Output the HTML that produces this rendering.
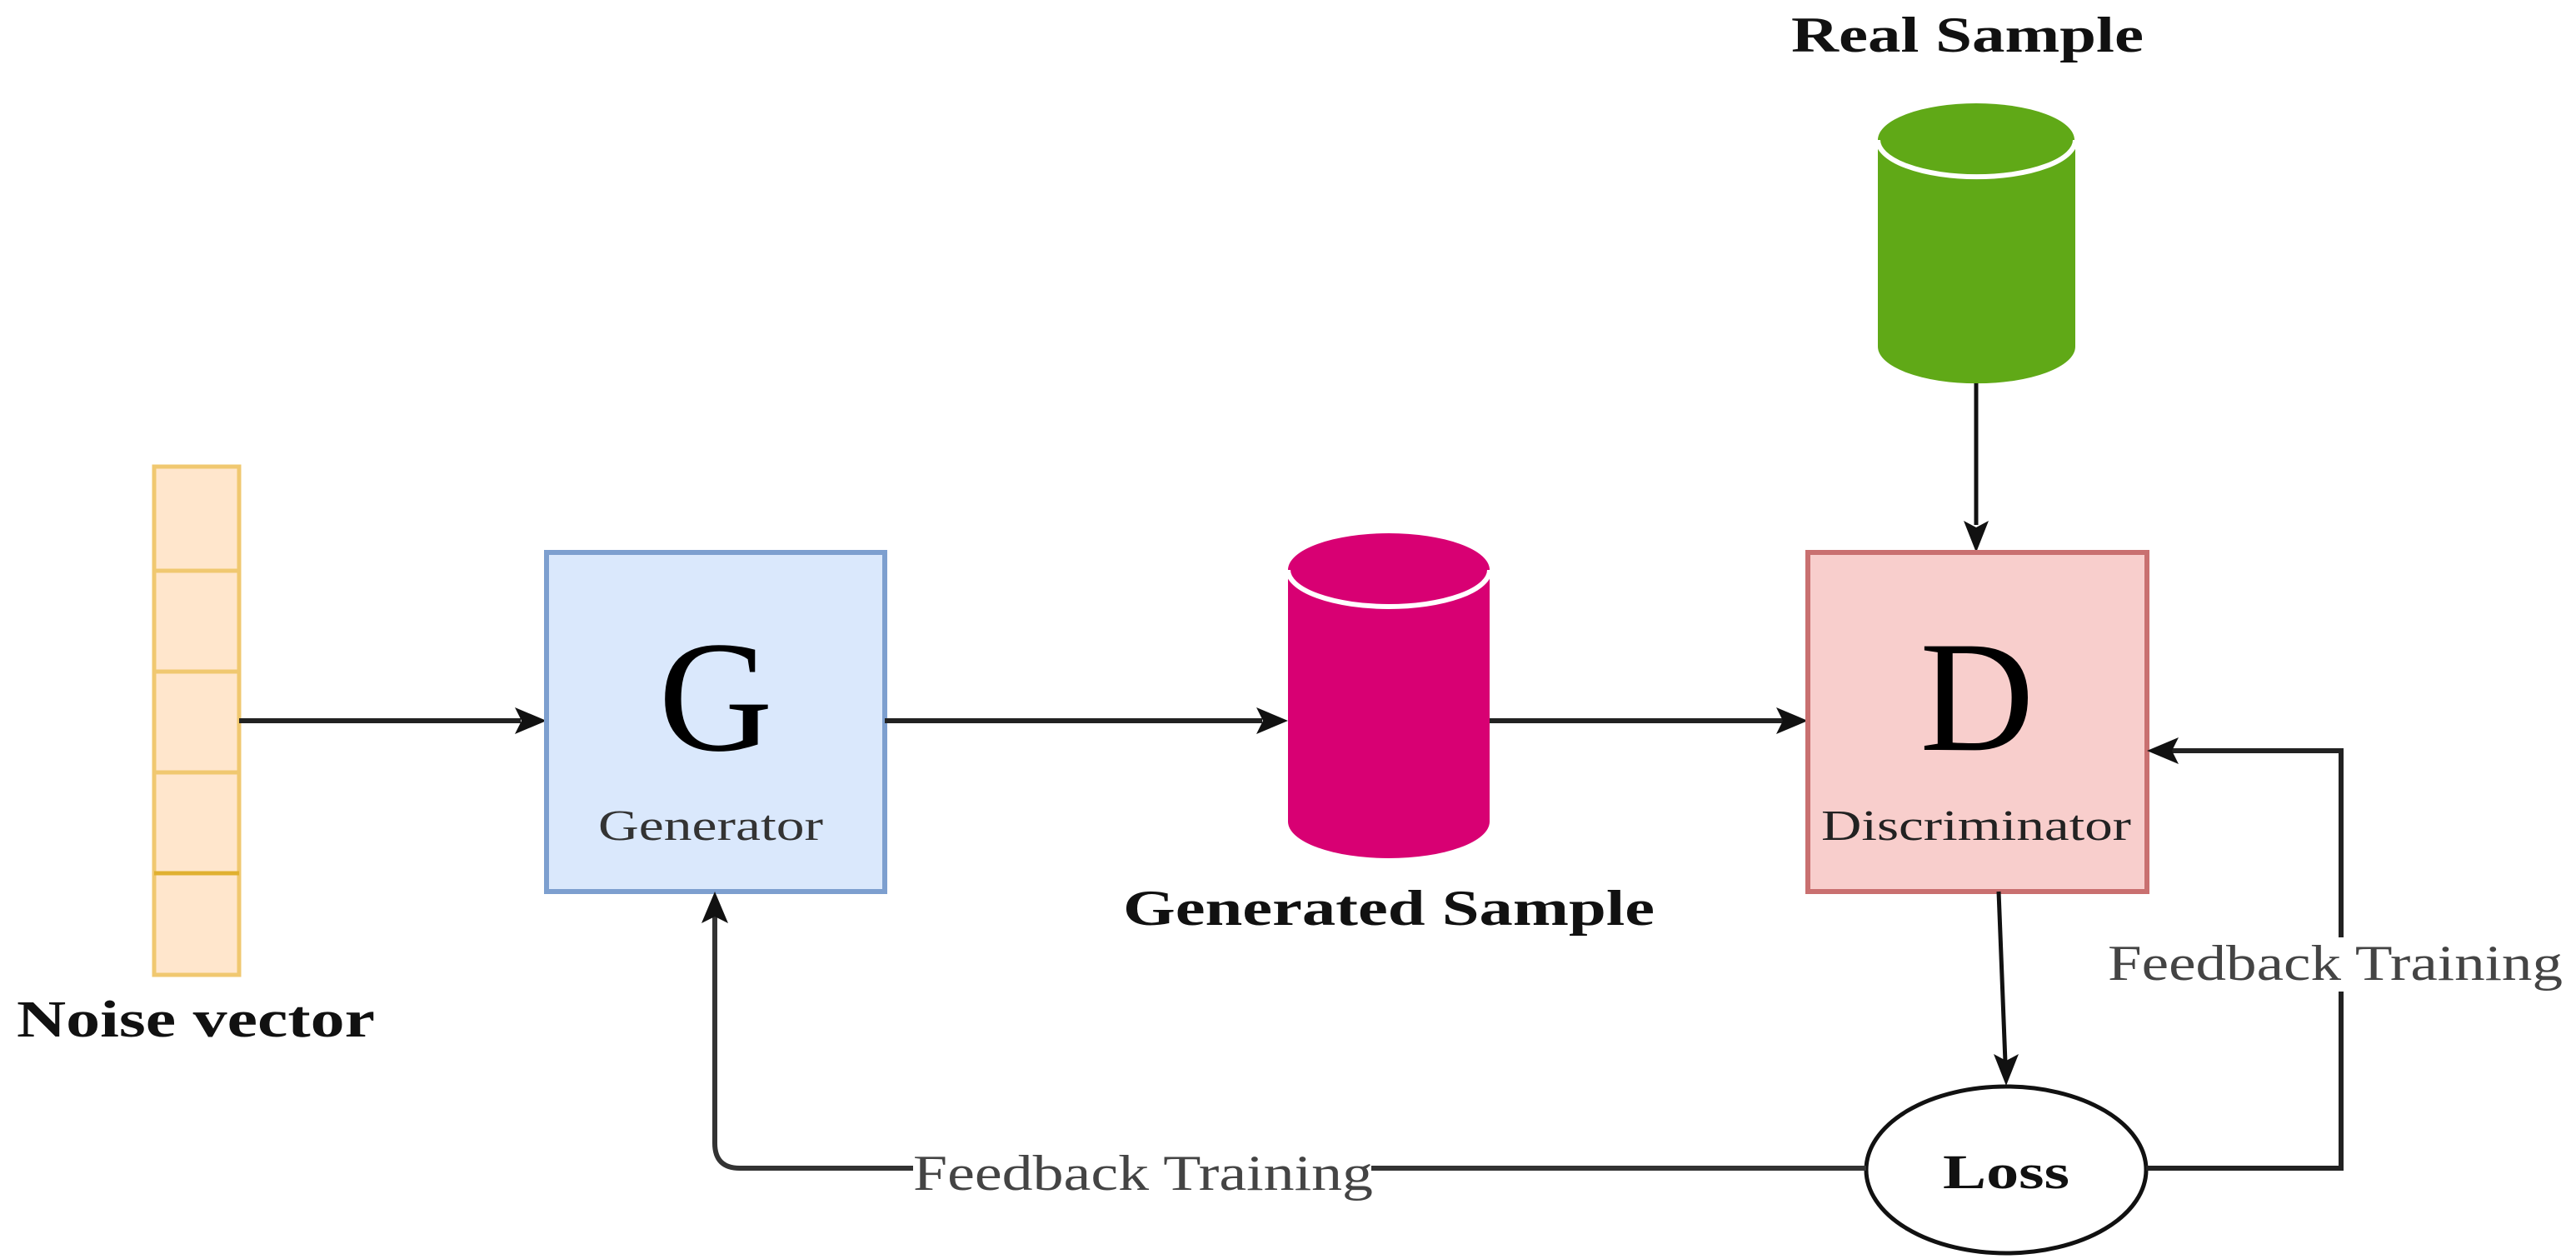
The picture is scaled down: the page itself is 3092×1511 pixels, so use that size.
<!DOCTYPE html>
<html><head><meta charset="utf-8"><style>
html,body{margin:0;padding:0;background:#fff;}
svg{display:block;}
text{font-family:"Liberation Serif",serif;}
</style></head><body>
<svg width="3092" height="1511" viewBox="0 0 3092 1511" xmlns="http://www.w3.org/2000/svg">
<!-- Real Sample label -->
<text x="2150" y="62" font-size="60" font-weight="bold" fill="#111" textLength="423" lengthAdjust="spacingAndGlyphs">Real Sample</text>
<!-- Green cylinder -->
<path d="M2254 168 L2254 416 A118 44 0 0 0 2491 416 L2491 168 Z" fill="#60a917"/>
<ellipse cx="2372" cy="168" rx="118" ry="44" fill="#60a917"/>
<path d="M2254 168 A118 44 0 0 0 2491 168" fill="none" stroke="#fff" stroke-width="6"/>
<!-- arrow real -> D -->
<line x1="2372" y1="460" x2="2372" y2="630" stroke="#111" stroke-width="5"/>
<polygon points="2372,663 2357,625 2372,633 2387,625" fill="#111"/>

<!-- Noise vector -->
<g fill="#ffe6cc" stroke="#f0c870" stroke-width="5">
<rect x="185" y="560" width="102" height="125"/>
<rect x="185" y="685" width="102" height="121"/>
<rect x="185" y="806" width="102" height="121"/>
<rect x="185" y="927" width="102" height="121"/>
<rect x="185" y="1048" width="102" height="122"/>
</g>
<line x1="185" y1="1048" x2="287" y2="1048" stroke="#e0b030" stroke-width="5"/>
<text x="20" y="1244" font-size="62" font-weight="bold" fill="#111" textLength="430" lengthAdjust="spacingAndGlyphs">Noise vector</text>

<!-- noise -> G -->
<line x1="287" y1="865" x2="625" y2="865" stroke="#222" stroke-width="6"/>
<polygon points="656,865 618,849 626,865 618,881" fill="#111"/>

<!-- G box -->
<rect x="656" y="663" width="406" height="407" fill="#dae8fc" stroke="#7d9fcf" stroke-width="6"/>
<text x="859" y="900" font-size="190" text-anchor="middle" fill="#000">G</text>
<text x="718" y="1008" font-size="52" fill="#333" textLength="270" lengthAdjust="spacingAndGlyphs">Generator</text>

<!-- G -> gen cylinder -->
<line x1="1062" y1="865" x2="1515" y2="865" stroke="#222" stroke-width="6"/>
<polygon points="1546,865 1508,849 1516,865 1508,881" fill="#111"/>

<!-- Gen cylinder -->
<path d="M1546 684 L1546 986 A121 44 0 0 0 1788 986 L1788 684 Z" fill="#d80073"/>
<ellipse cx="1667" cy="684" rx="121" ry="44" fill="#d80073"/>
<path d="M1546 684 A121 44 0 0 0 1788 684" fill="none" stroke="#fff" stroke-width="6"/>
<text x="1348" y="1110" font-size="60" font-weight="bold" fill="#111" textLength="638" lengthAdjust="spacingAndGlyphs">Generated Sample</text>

<!-- gen -> D -->
<line x1="1788" y1="865" x2="2140" y2="865" stroke="#222" stroke-width="6"/>
<polygon points="2170,865 2132,849 2140,865 2132,881" fill="#111"/>

<!-- D box -->
<rect x="2170" y="663" width="407" height="407" fill="#f8cecc" stroke="#c97070" stroke-width="6"/>
<text x="2373" y="900" font-size="190" text-anchor="middle" fill="#000">D</text>
<text x="2186" y="1008" font-size="52" fill="#222" textLength="372" lengthAdjust="spacingAndGlyphs">Discriminator</text>

<!-- D -> Loss -->
<line x1="2399" y1="1070" x2="2407" y2="1275" stroke="#111" stroke-width="5"/>
<polygon points="2408,1303 2393,1265 2408,1273 2423,1265" fill="#111"/>

<!-- Loss ellipse -->
<ellipse cx="2408" cy="1404" rx="168" ry="100" fill="#fff" stroke="#111" stroke-width="5"/>
<text x="2332" y="1426" font-size="58" font-weight="bold" fill="#111" textLength="152" lengthAdjust="spacingAndGlyphs">Loss</text>

<!-- Loss -> D feedback (right) -->
<polyline points="2576,1402 2810,1402 2810,901 2605,901" fill="none" stroke="#222" stroke-width="6"/>
<polygon points="2577,901 2615,885 2607,901 2615,917" fill="#111"/>
<rect x="2530" y="1125" width="562" height="65" fill="#fff"/>
<text x="2530" y="1176" font-size="60" fill="#444" textLength="546" lengthAdjust="spacingAndGlyphs">Feedback Training</text>

<!-- Loss -> G feedback (left) -->
<path d="M2240 1402 L888 1402 Q858 1402 858 1372 L858 1100" fill="none" stroke="#333" stroke-width="6"/>
<polygon points="858,1070 842,1108 858,1100 874,1108" fill="#111"/>
<rect x="1096" y="1372" width="550" height="66" fill="#fff"/>
<text x="1096" y="1428" font-size="60" fill="#444" textLength="552" lengthAdjust="spacingAndGlyphs">Feedback Training</text>
</svg>
</body></html>
